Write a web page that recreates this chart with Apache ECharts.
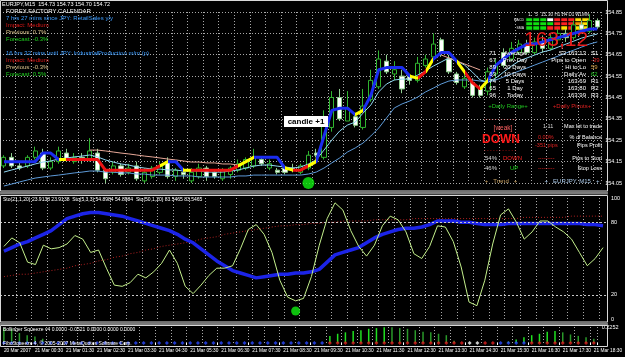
<!DOCTYPE html>
<html><head><meta charset="utf-8">
<script src="https://cdn.jsdelivr.net/npm/echarts@6/dist/echarts.min.js"></script>
<style>html,body{margin:0;padding:0;background:#000}#c{width:625px;height:357px}</style>
</head><body><div id="c"></div><script>
const times = ['23:30','23:45','00:00','00:15','00:30','00:45','01:00','01:15','01:30','01:45','02:00','02:15','02:30','02:45','03:00','03:15','03:30','03:45','04:00','04:15','04:30','04:45','05:00','05:15','05:30','05:45','06:00','06:15','06:30','06:45','07:00','07:15','07:30','07:45','08:00','08:15','08:30','08:45','09:00','09:15','09:30','09:45','10:00','10:15','10:30','10:45','11:00','11:15','11:30','11:45','12:00','12:15','12:30','12:45','13:00','13:15','13:30','13:45','14:00','14:15','14:30','14:45','15:00','15:15','15:30','15:45','16:00','16:15','16:30','16:45','17:00','17:15','17:30','17:45','18:00','18:15','18:30'];
const tickLabels = ['20 Mar 2007','21 Mar 00:30','21 Mar 01:30','21 Mar 02:30','21 Mar 03:30','21 Mar 04:30','21 Mar 05:30','21 Mar 06:30','21 Mar 07:30','21 Mar 08:30','21 Mar 09:30','21 Mar 10:30','21 Mar 11:30','21 Mar 12:30','21 Mar 13:30','21 Mar 14:30','21 Mar 15:30','21 Mar 16:30','21 Mar 17:30','21 Mar 18:30'];
const priceTicks = [154.05,154.15,154.25,154.35,154.45,154.55,154.65,154.75,154.85];
// [open, close, low, high]
const candles = [
[154.13,154.17,154.12,154.18],[154.17,154.13,154.12,154.19],[154.13,154.12,154.11,154.15],[154.13,154.17,154.12,154.18],[154.17,154.20,154.16,154.22],
[154.19,154.12,154.11,154.21],[154.12,154.15,154.11,154.17],[154.15,154.20,154.14,154.22],[154.19,154.16,154.15,154.21],[154.15,154.17,154.14,154.19],
[154.17,154.16,154.14,154.19],[154.16,154.20,154.15,154.26],[154.19,154.11,154.10,154.21],[154.11,154.07,154.05,154.12],[154.10,154.13,154.09,154.15],
[154.13,154.09,154.08,154.14],[154.10,154.12,154.09,154.14],[154.13,154.07,154.06,154.15],[154.06,154.10,154.05,154.12],[154.08,154.12,154.07,154.13],
[154.10,154.13,154.09,154.15],[154.15,154.08,154.07,154.17],[154.08,154.11,154.06,154.12],[154.10,154.09,154.07,154.11],[154.06,154.10,154.05,154.12],
[154.08,154.12,154.07,154.14],[154.12,154.08,154.06,154.13],[154.10,154.08,154.07,154.11],[154.07,154.11,154.06,154.12],[154.09,154.12,154.07,154.13],
[154.11,154.14,154.10,154.16],[154.12,154.16,154.11,154.17],[154.13,154.17,154.12,154.21],[154.16,154.14,154.13,154.17],[154.12,154.14,154.11,154.16],
[154.11,154.10,154.09,154.12],[154.12,154.10,154.09,154.13],[154.12,154.11,154.10,154.14],[154.10,154.13,154.09,154.14],[154.12,154.18,154.11,154.20],
[154.19,154.18,154.17,154.21],[154.17,154.34,154.16,154.39],[154.31,154.45,154.29,154.48],[154.45,154.35,154.34,154.49],[154.34,154.40,154.34,154.48],
[154.36,154.32,154.31,154.37],[154.31,154.41,154.30,154.49],[154.44,154.53,154.43,154.58],[154.50,154.63,154.49,154.67],[154.62,154.57,154.56,154.65],
[154.56,154.58,154.53,154.62],[154.55,154.49,154.47,154.58],[154.55,154.53,154.51,154.56],[154.53,154.61,154.52,154.64],[154.60,154.63,154.59,154.65],
[154.64,154.70,154.63,154.75],[154.72,154.66,154.64,154.73],[154.63,154.57,154.56,154.65],[154.56,154.52,154.51,154.57],[154.50,154.54,154.49,154.56],
[154.52,154.46,154.45,154.54],[154.49,154.46,154.45,154.51],[154.48,154.57,154.46,154.59],[154.56,154.60,154.54,154.63],[154.66,154.60,154.59,154.68],
[154.63,154.68,154.62,154.71],[154.66,154.70,154.65,154.72],[154.70,154.66,154.65,154.72],[154.66,154.71,154.65,154.73],[154.71,154.68,154.66,154.74],
[154.68,154.73,154.67,154.75],[154.72,154.75,154.70,154.77],[154.75,154.73,154.71,154.77],[154.73,154.79,154.72,154.81],[154.79,154.77,154.75,154.81],
[154.76,154.81,154.75,154.84],[154.81,154.78,154.77,154.82]];
const trendLine = [154.15,154.15,154.15,154.15,154.15,154.19,154.19,154.16,154.16,154.16,154.16,154.16,154.16,154.11,154.11,154.11,154.11,154.11,154.11,154.11,
154.13,154.15,154.15,154.11,154.11,154.11,154.11,154.11,154.11,154.11,
154.13,154.15,154.17,154.17,154.17,154.17,154.12,154.11,154.11,154.13,
154.15,154.27,154.39,154.40,154.40,154.37,154.39,154.46,154.58,154.59,
154.59,154.59,154.55,154.54,154.57,154.63,154.66,154.66,154.62,154.57,
154.52,154.49,154.53,154.60,154.63,154.66,154.68,154.70,154.70,154.71,
154.72,154.73,154.74,154.75,154.76,154.77,154.77];
const trendState = ['b','b','b','b','b','b','b','y','r','r','r','r','r','r','r','r','r','r','r','r',
'y','b','b','y','r','r','r','r','r','r',
'y','y','b','b','b','b','y','r','r','y',
'b','b','b','b','b','y','b','b','b','b',
'b','b','y','r','y','b','b','b','y','r',
'r','y','b','b','b','b','b','b','b','b',
'b','b','b','b','b','b','b'];
const fastMA = [154.101,154.111,154.120,154.129,154.139,154.148,154.153,154.162,154.167,154.172,
154.176,154.181,154.172,154.158,154.148,154.139,154.134,154.125,154.120,154.115,
154.115,154.111,154.111,154.106,154.106,154.106,154.101,154.101,154.101,154.106,
154.111,154.120,154.129,154.134,154.134,154.129,154.125,154.120,154.125,
154.139,154.158,154.204,154.251,154.293,154.321,154.335,154.377,154.415,154.476,
154.513,154.532,154.536,154.536,154.555,154.574,154.597,154.616,154.635,154.621,
154.602,154.569,154.532,154.522,154.541,154.569,154.597,154.621,154.635,154.649,
154.663,154.672,154.686,154.700,154.714,154.728,154.738,154.747];
const slowMA = [154.036,154.045,154.055,154.064,154.073,154.078,154.083,154.087,154.092,154.097,
154.101,154.106,154.106,154.101,154.101,154.097,154.097,154.092,154.092,154.087,
154.087,154.087,154.083,154.083,154.083,154.078,154.078,154.078,154.078,154.078,
154.083,154.083,154.087,154.087,154.087,154.087,154.087,154.087,154.087,154.092,
154.101,154.120,154.144,154.167,154.195,154.214,154.237,154.270,154.307,154.354,
154.401,154.420,154.434,154.452,154.476,154.494,154.513,154.527,154.532,154.532,
154.532,154.527,154.522,154.532,154.546,154.560,154.574,154.588,154.602,154.616,
154.630,154.644,154.658,154.672,154.686,154.700,154.710];
const bandLine = [null,null,null,null,null,null,null,null,null,null,null,
154.204,154.204,154.200,154.195,154.190,154.186,154.181,154.176,154.172,154.167,
154.162,154.158,154.153,154.148,154.148,154.144,154.144,154.139,154.139,154.134,
null,null,null,null,null,null,null,null,null,null,null,null,null,null,null,null,null,null,null,null,null,null,null,null,null,
154.649,154.635,154.621,154.607,154.593,154.579,
null,null,null,null,null,null,null,null,null,null,null,null,null,null,null];
const signalBar = 39, signalPrice = 154.05;
const stochFast = [60,67,63,47,45,61,58,59,62,69, 66,55,57,42,28,27,30,37,34,39, 46,57,46,27,21,28,36,42,42,44,
58,74,78,70,55,32,18,15,17,35, 61,83,96,90,73,60,52,61,77,85, 82,72,54,50,60,77,76,64,43,14,
11,32,62,86,91,80,66,72,81,81, 76,72,66,55,44,50,59];
const stochSlow = [56,59,62,64,67,70,73,78,83,85, 87,88,88,87,86,85,83,81,79,77, 75,73,70,66,63,58,53,48,44,40,
38,36,34,35,36,37,37,38,38,39, 41,47,53,55,57,59,63,67,70,72, 74,75,75,76,78,81,81,81,80,80,
79,78,78,78,79,79,79,79,79,79, 79,79,79,79,78,78,77];
const stochSignal = [35,36,37,37,38,39,40,41,42,44, 45,46,48,49,51,52,54,55,57,58, 60,61,62,63,64,66,67,68,70,71,
72,73,74,75,76,77,77,78,78,79, 79,80,80,81,81,81,81,82,82,82, 82,82,83,83,83,83,83,83,83,83,
83,83,83,83,83,83,84,84,84,84, 84,84,85,85,85,85,85];
const stochDotBar = 37, stochDotValue = 6.6;
const squeeze = [0.21,0.20,0.14,0.11,0.09,0.06,0.02,0,0,0, 0,0,0,0,0,0,0,0,0,0, 0,0,0,0,0,0,0,0,0,0,
0,0,0,0,0,0,0,0,0,0, 0,0,0.10,0.13,0.15,0.17,0.18,0.20,0.21,0.22, 0.22,0.21,0.20,0.18,0.16,0.15,0.13,0.11,0.03,0,
0,0,0,0,0,0.02,0.05,0.08,0.11,0.13, 0.16,0.17,0.15,0.12,0.10,0.08,0.06];
const squeezeDots = ['b','b','b','b','b','b','b','b','b','b','b','b','b','b','b','b','b','b','b','b','b','b','b','b','b','b','b','b','b','b','b','b','b','b','b','b','b','b','b','b','b','b',
'r','r','r','r','r','r','r','r','r','r','r','r','r','r','r','r','r','r','w','w','r','r','b','b','b','b','r','r','r','r','r','r','r','r','r'];
const tfCols = ['1','5','15','30','H1','H4','D1','W1','MN'];
const tfRows = ['MACD','STR','SMA'];
const tfStates = [
 ['g','g','g','w','r','r','r','y','y'],
 ['g','g','g','g','r','r','r','o','y'],
 ['g','g','g','r','r','y','r','y','y']];

const FONT = 'Liberation Sans, Arial, sans-serif';
const chart = echarts.init(document.getElementById('c'), null, {renderer:'canvas'});
const gridLine = {show:true, lineStyle:{color:'#a8a8a8', type:[1,2], width:1}};
const xBase = (gi, showLabel) => ({
  type:'category', data: times, gridIndex: gi, boundaryGap: true,
  axisLine:{show:false}, axisTick: showLabel ? {show:true, interval:(i)=>i%4===0, length:2, lineStyle:{color:'#fff'}} : {show:false},
  axisLabel: showLabel ? {show:true, color:'#fff', fontSize:4.8, fontFamily:FONT, align:'left', margin:5, hideOverlap:false,
     interval:(i)=>i%4===0, formatter:(v,i)=>tickLabels[i/4]||''} : {show:false},
  splitLine: Object.assign({interval:(i)=>i%2===0}, gridLine)
});
const col = {b:'#1a2cf0', y:'#ffff00', r:'#ee1111'};
const pieces = [];
let s = 0;
for (let i = 1; i <= trendState.length; i++) {
  if (i === trendState.length || trendState[i] !== trendState[s]) {
    pieces.push({gte: s - 0.5, lt: i - 0.5, color: col[trendState[s]]});
    s = i;
  }
}
const dotCol = {b:'#2a48ff', r:'#e02020', w:'#ffffff'};
const tfCol = {g:'#10e010', r:'#ff2020', y:'#ffe000', o:'#ff9000', w:'#ffffff'};
const heat = [];
tfStates.forEach((row, r) => row.forEach((st, c) => heat.push({value:[c, r, 1], itemStyle:{color: tfCol[st]}})));

function T(x, y, text, fill, size, weight, align) {
  return {type:'text', x:x, y:y, silent:true, z:100,
    style:{text:text, fill:fill, font:(weight||'normal')+' '+size+'px '+FONT, align:align||'left', verticalAlign:'top'}};
}
const g = [];
// frames
g.push({type:'rect', shape:{x:0.5,y:0.5,width:607,height:190.5}, style:{fill:null, stroke:'#d8d8d8', lineWidth:1}, z:50});
g.push({type:'rect', shape:{x:0,y:191.5,width:608,height:3}, style:{fill:'#7a7a7a'}, z:50});
g.push({type:'rect', shape:{x:0.5,y:195.5,width:607,height:126.5}, style:{fill:null, stroke:'#d8d8d8', lineWidth:1}, z:50});
g.push({type:'rect', shape:{x:0,y:322.5,width:608,height:2.5}, style:{fill:'#7a7a7a'}, z:50});
g.push({type:'rect', shape:{x:0.5,y:325.5,width:607,height:21}, style:{fill:null, stroke:'#d8d8d8', lineWidth:1}, z:50});
// top-left calendar text
g.push(T(2,1,'EURJPY,M15  154.73 154.73 154.70 154.72','#ffffff',5.5));
g.push(T(6,8,'FOREX FACTORY CALENDAR','#ffffff',6));
g.push(T(6,15,'7 hrs 27 mins since JPY: RetailSales y/y','#3c9cff',6));
g.push(T(6,22,'Impact: Medium','#e01818',6));
g.push(T(6,29,'Previous: 0.7%','#d8c08a',6));
g.push(T(6,36,'Forecast: -0.3%','#20d020',6));
g.push(T(6,50,'16 hrs 32 mins until JPY: IndustrialProduction m/m (p)','#3c9cff',6));
g.push(T(6,57,'Impact: Medium','#e01818',6));
g.push(T(6,64,'Previous: -0.3%','#d8c08a',6));
g.push(T(6,71,'Forecast: 0.5%','#20d020',6));
// candle +1 label
g.push({type:'rect', shape:{x:284,y:116,width:44,height:11}, style:{fill:'#ffffff'}, z:90});
g.push(T(306,117.5,'candle +1','#000000',8,'bold','center'));
// big price
g.push(T(524,30,'163,12','#e81c1c',21));
// daily range table
const rY = [50,57,64,71,78,85,92];
const rangeNum = ['71','67','89','63','74','65','96'];
const rangeLbl = ['Average','Prev Day','20 Days','10 Days','5 Days','1 Day','Today'];
const pivLbl = ['S3 163.13','Pips to Open','Hi to Lo','Daily Av','163.69','163.80','163.99'];
const pivVal = ['S1','-39','59','62','R1','R2','R3'];
const pivCol = ['#ffffff','#e02020','#d8a040','#20d020','#ffffff','#ffffff','#ffffff'];
rY.forEach((y,i)=>{
  g.push(T(496,y,rangeNum[i],'#ffffff',6,'normal','right'));
  g.push(T(515,y,rangeLbl[i],'#ffffff',6,'normal','center'));
  g.push(T(586,y,pivLbl[i],'#ffffff',6,'normal','right'));
  g.push(T(591,y,pivVal[i],pivCol[i],6));
});
g.push(T(508,103,'+Daily Range+','#20c020',6,'normal','center'));
g.push(T(572,103,'+Daily Pivots+','#e02020',6,'normal','center'));
// trend block
g.push(T(500,117,'- - - - - - - - - - -','#c01010',5,'normal','center'));
g.push(T(503,125,'[weak]','#ff6060',6.5,'normal','center'));
g.push(T(501,134,'DOWN','#ff1a1a',12,'bold','center'));
g.push(T(500,148,'- - - - - - - - - - -','#c01010',5,'normal','center'));
g.push(T(485,155,'54%','#d8d8d8',6));
g.push(T(503,155,'DOWN','#ff2020',6));
g.push(T(485,165,'46%','#d8d8d8',6));
g.push(T(510,165,'UP','#20d020',6));
g.push(T(501,178,'+   Trend   +','#c8a060',6,'normal','center'));
g.push(T(543,123,'1.11','#d8d8d8',5.5));
g.push(T(602,123,'Max lot to trade','#ffffff',5.5,'normal','right'));
g.push(T(538,134,'0.00%','#e02020',5.5));
g.push(T(602,134,'% of Balance','#ffffff',5.5,'normal','right'));
g.push(T(535,142,'-351 pips','#e02020',5.5));
g.push(T(602,142,'Pips Profit','#ffffff',5.5,'normal','right'));
g.push(T(538,155,'---------','#e02020',5.5));
g.push(T(602,155,'Pips to Stop','#ffffff',5.5,'normal','right'));
g.push(T(538,165,'---------','#e02020',5.5));
g.push(T(602,165,'Stop Loss','#ffffff',5.5,'normal','right'));
g.push(T(572,178,'+   EURJPY, M15   +','#a8c8e8',6,'normal','center'));
// sub-window headers
g.push(T(3,197,'Sto(21,1,20) 23.9138 23.9138  Sto(5,3,3) 54.8984 54.8984  Sto(50,1,20) 83.5465 83.5465','#ffffff',5));
g.push(T(3,327,'Bollinger Squeeze v4 0.0000 -0.0521 0.0000 0.0000 0.0000','#ffffff',5));
g.push(T(3,341,'FiboSqueeze 4, © 2005-2007 MetaQuotes Software Corp.','#ffffff',5));

const option = {
  backgroundColor:'#000000',
  animation:false,
  grid:[
    {left:0, right:18, top:12, height:171},
    {left:0, right:18, top:198, height:121},
    {left:0, right:18, top:327, height:16},
    {left:526, width:63, top:18, height:12}
  ],
  xAxis:[
    xBase(0,false), xBase(1,false), xBase(2,true),
    {type:'category', gridIndex:3, data:tfCols, position:'top', axisLine:{show:false}, axisTick:{show:false},
      axisLabel:{color:'#e8e8e8', fontSize:4.5, fontFamily:FONT, margin:1, interval:0}, splitLine:{show:false}}
  ],
  yAxis:[
    {type:'value', gridIndex:0, position:'right', min:priceTicks[0], max:priceTicks[priceTicks.length-1], interval:0.1,
      axisLine:{show:false}, axisTick:{show:false},
      axisLabel:{color:'#fff', fontSize:5.5, fontFamily:FONT, margin:4, formatter:(v)=>v.toFixed(2)},
      splitLine:gridLine},
    {type:'value', gridIndex:1, position:'right', min:0, max:100, interval:20,
      axisLine:{show:false}, axisTick:{show:false},
      axisLabel:{color:'#fff', fontSize:5.5, fontFamily:FONT, margin:4, formatter:(v)=>(v===0||v===20||v===80||v===100)?String(v):''},
      splitLine:{show:false}},
    {type:'value', gridIndex:2, position:'right', min:0, max:0.2252, interval:0.2252,
      axisLine:{show:false}, axisTick:{show:false},
      axisLabel:{color:'#fff', fontSize:5.5, fontFamily:FONT, margin:4, formatter:(v)=>v>0?'0.2252':''},
      splitLine:{show:false}},
    {type:'category', gridIndex:3, data:tfRows, inverse:true, axisLine:{show:false}, axisTick:{show:false},
      axisLabel:{color:'#e8e8e8', fontSize:3.5, fontFamily:FONT, margin:2}, splitLine:{show:false}}
  ],
  visualMap:[{type:'piecewise', show:false, dimension:0, seriesIndex:4, pieces:pieces}],
  series:[
    {type:'candlestick', xAxisIndex:0, yAxisIndex:0, data:candles, barWidth:'60%', clip:false,
      itemStyle:{color:'#000000', color0:'#ffffff', borderColor:'#2fb42f', borderColor0:'#8fcf8f', borderWidth:1}},
    {type:'line', xAxisIndex:0, yAxisIndex:0, data:slowMA, symbol:'none', clip:false, lineStyle:{color:'#5d9ad8', width:1}},
    {type:'line', xAxisIndex:0, yAxisIndex:0, data:fastMA, symbol:'none', clip:false, lineStyle:{color:'#8fd6f2', width:1}},
    {type:'line', xAxisIndex:0, yAxisIndex:0, data:bandLine, symbol:'none', clip:false, lineStyle:{color:'#e8a898', width:1}},
    {type:'line', xAxisIndex:0, yAxisIndex:0, data:trendLine, symbol:'none', clip:false, lineStyle:{width:3}},
    {type:'scatter', xAxisIndex:0, yAxisIndex:0, data:[[signalBar, signalPrice]], symbolSize:12, clip:false, itemStyle:{color:'#10f010'}},
    {type:'line', xAxisIndex:1, yAxisIndex:1, data:stochSignal, symbol:'none', lineStyle:{color:'#b02020', width:1, type:[1,2]}},
    {type:'line', xAxisIndex:1, yAxisIndex:1, data:stochSlow, symbol:'none', lineStyle:{color:'#1c24e8', width:3.5}},
    {type:'line', xAxisIndex:1, yAxisIndex:1, data:stochFast, symbol:'none', lineStyle:{color:'#c4f08c', width:1},
      markLine:{silent:true, symbol:'none', label:{show:false}, lineStyle:{color:'#c8c8c8', type:[2,2], width:1}, data:[{yAxis:20},{yAxis:80}]}},
    {type:'scatter', xAxisIndex:1, yAxisIndex:1, data:[[stochDotBar, stochDotValue]], symbolSize:9, clip:false, itemStyle:{color:'#10f010'}},
    {type:'bar', xAxisIndex:2, yAxisIndex:2, barWidth:1.5,
      data:squeeze.map((v,i)=>({value:v, itemStyle:{color:(i>0 && v>squeeze[i-1])?'#20e020':'#2a9a2a'}}))},
    {type:'scatter', xAxisIndex:2, yAxisIndex:2, symbol:'diamond', symbolSize:4,
      data:squeezeDots.map((c,i)=>({value:[i,0], itemStyle:{color:dotCol[c]}}))},
    {type:'heatmap', xAxisIndex:3, yAxisIndex:3, data:heat, itemStyle:{borderColor:'#000', borderWidth:1}}
  ],
  graphic: g
};
chart.setOption(option);
</script></body></html>
